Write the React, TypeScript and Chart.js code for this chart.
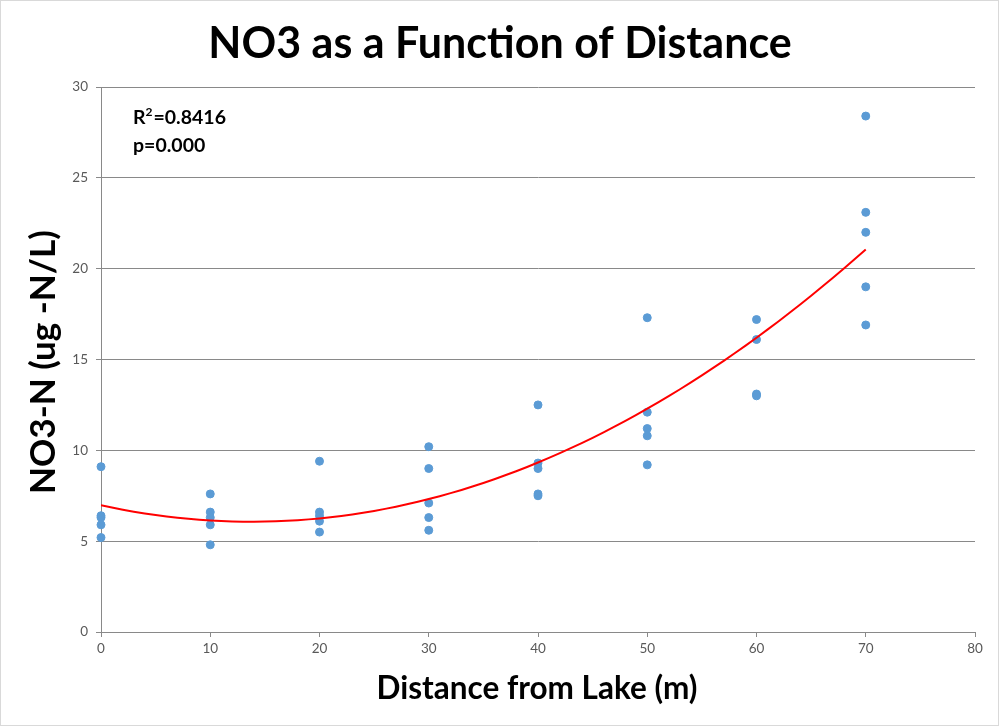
import React, { useEffect, useRef } from "react";
import { Chart, registerables } from "chart.js";

Chart.register(...registerables);

const distances = [
  0, 0, 0, 0, 0,
  10, 10, 10, 10, 10,
  20, 20, 20, 20, 20,
  30, 30, 30, 30, 30,
  40, 40, 40, 40, 40,
  50, 50, 50, 50, 50,
  60, 60, 60, 60,
  70, 70, 70, 70, 70,
];
const no3Values = [
  9.1, 6.4, 6.3, 5.9, 5.2,
  7.6, 6.6, 6.3, 5.9, 4.8,
  9.4, 6.6, 6.4, 6.1, 5.5,
  10.2, 9.0, 7.1, 6.3, 5.6,
  12.5, 9.3, 9.0, 7.6, 7.5,
  17.3, 12.1, 11.2, 10.8, 9.2,
  17.2, 16.1, 13.1, 13.0,
  28.4, 23.1, 22.0, 19.0, 16.9,
];
const xTicks = [0, 10, 20, 30, 40, 50, 60, 70, 80];
const yTicks = [0, 5, 10, 15, 20, 25, 30];
const titleText = "NO3 as a Function of Distance";
const xTitle = "Distance from Lake (m)";
const yTitle = "NO3-N (ug -N/L)";
const r2Text = "0.8416";
const pText = "p=0.000";

// Least-squares quadratic fit of the scatter data (Excel polynomial trendline)
function quadFit(xs: number[], ys: number[]) {
  let s0 = 0, s1 = 0, s2 = 0, s3 = 0, s4 = 0, t0 = 0, t1 = 0, t2 = 0;
  for (let i = 0; i < xs.length; i++) {
    const x = xs[i], y = ys[i];
    s0 += 1; s1 += x; s2 += x * x; s3 += x * x * x; s4 += x * x * x * x;
    t0 += y; t1 += x * y; t2 += x * x * y;
  }
  const M = [
    [s4, s3, s2, t2],
    [s3, s2, s1, t1],
    [s2, s1, s0, t0],
  ];
  for (let c = 0; c < 3; c++) {
    for (let r = c + 1; r < 3; r++) {
      const f = M[r][c] / M[c][c];
      for (let k = c; k < 4; k++) M[r][k] -= f * M[c][k];
    }
  }
  const sol = [0, 0, 0];
  for (let r = 2; r >= 0; r--) {
    let v = M[r][3];
    for (let k = r + 1; k < 3; k++) v -= M[r][k] * sol[k];
    sol[r] = v / M[r][r];
  }
  return sol; // a, b, c
}

const GRID = "#898989";
const TICK = "#595959";
const FONT = "Lato, 'Open Sans', sans-serif";

export default function App() {
  const ref = useRef<HTMLCanvasElement | null>(null);

  useEffect(() => {
    document.body.style.margin = "0";
    const canvas = ref.current;
    if (!canvas) return;
    const [a, b, c] = quadFit(distances, no3Values);
    const xMaxData = Math.max(...distances);
    const trend: { x: number; y: number }[] = [];
    for (let x = 0; x <= xMaxData; x += 1) trend.push({ x, y: a * x * x + b * x + c });

    const textPlugin = {
      id: "texts",
      afterDraw(chart: any) {
        const ctx = chart.ctx as CanvasRenderingContext2D;
        const area = chart.chartArea;
        ctx.save();
        ctx.strokeStyle = "#d9d9d9";
        ctx.lineWidth = 1;
        ctx.strokeRect(0.5, 0.5, 998, 725);
        ctx.fillStyle = "#000";
        ctx.textAlign = "center";
        ctx.textBaseline = "middle";
        ctx.font = `bold 43px ${FONT}`;
        ctx.fillText(titleText, 500, 44);
        ctx.font = `bold 31.5px ${FONT}`;
        ctx.fillText(xTitle, 537, 689);
        ctx.save();
        ctx.translate(44, 362);
        ctx.rotate(-Math.PI / 2);
        ctx.font = `bold 35px ${FONT}`;
        ctx.fillText(yTitle, 0, 0);
        ctx.restore();
        ctx.textAlign = "left";
        ctx.font = `bold 19.5px ${FONT}`;
        const x0 = 133;
        ctx.fillText("R", x0, 118);
        const rw = ctx.measureText("R").width;
        ctx.font = `bold 12px ${FONT}`;
        ctx.fillText("2", x0 + rw, 112);
        const sw = ctx.measureText("2").width;
        ctx.font = `bold 19.5px ${FONT}`;
        ctx.fillText("=" + r2Text, x0 + rw + sw + 1, 118);
        ctx.fillText(pText, x0, 146);
        ctx.restore();
      },
    };

    const chart = new Chart(canvas, {
      type: "scatter",
      data: {
        datasets: [
          {
            label: "NO3",
            data: distances.map((x, i) => ({ x, y: no3Values[i] })),
            backgroundColor: "#5B9BD5",
            borderColor: "#5B9BD5",
            pointRadius: 4,
            pointHoverRadius: 4,
            clip: false,
            order: 2,
          } as any,
          {
            type: "line",
            label: "Trend",
            data: trend,
            borderColor: "#FF0000",
            borderWidth: 2,
            pointRadius: 0,
            showLine: true,
            fill: false,
            tension: 0,
            order: 1,
          } as any,
        ],
      },
      options: {
        animation: false,
        responsive: false,
        layout: { padding: { top: 87, right: 25, left: 0, bottom: 0 } },
        plugins: {
          legend: { display: false },
          tooltip: { enabled: false },
          title: { display: false },
        },
        scales: {
          x: {
            type: "linear",
            min: xTicks[0],
            max: xTicks[xTicks.length - 1],
            afterBuildTicks: (s: any) => { s.ticks = xTicks.map((v) => ({ value: v })); },
            afterFit: (s: any) => { s.height = 95; },
            ticks: { color: TICK, font: { family: FONT, size: 13.5 }, padding: 4, maxRotation: 0 },
            grid: { drawOnChartArea: false, drawTicks: true, tickLength: 5, color: GRID },
            border: { color: GRID },
          },
          y: {
            type: "linear",
            min: yTicks[0],
            max: yTicks[yTicks.length - 1],
            afterBuildTicks: (s: any) => { s.ticks = yTicks.map((v) => ({ value: v })); },
            afterFit: (s: any) => { s.width = 101; },
            ticks: { color: TICK, font: { family: FONT, size: 13.5 }, padding: 8 },
            grid: { color: GRID, tickLength: 5 },
            border: { color: GRID },
          },
        },
      },
      plugins: [textPlugin],
    });
    return () => chart.destroy();
  }, []);

  return (
    <div style={{ position: "absolute", left: 0, top: 0, width: 1000, height: 727, background: "#fff" }}>
      <canvas ref={ref} width={1000} height={727} />
    </div>
  );
}
